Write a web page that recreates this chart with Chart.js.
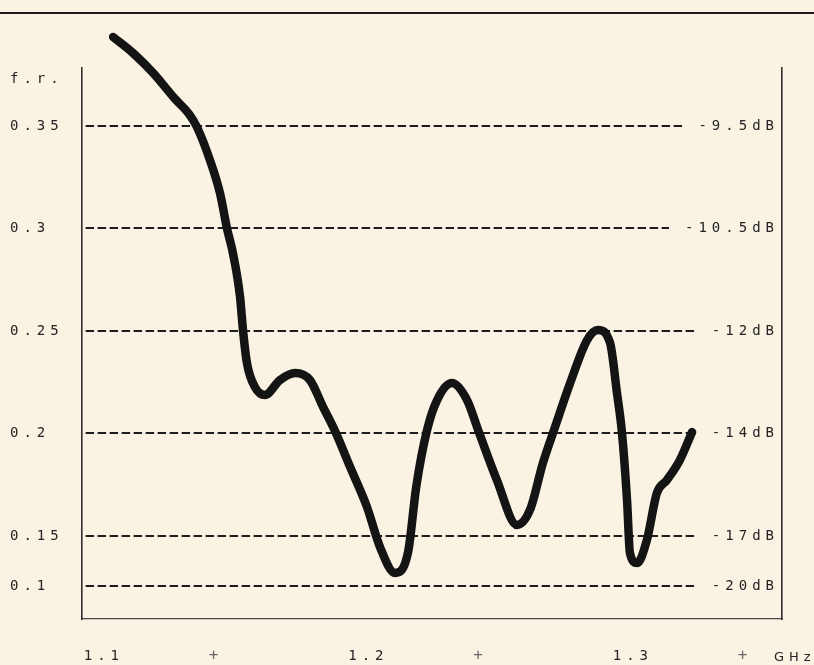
<!DOCTYPE html>
<html>
<head>
<meta charset="utf-8">
<script src="https://cdn.jsdelivr.net/npm/chart.js@4.4.1/dist/chart.umd.min.js"></script>
<style>
    body { margin: 0; background: #faf3e4; }
    #wrap { position: relative; width: 814px; height: 665px; overflow: hidden; }
    #topRule { position: absolute; left: 0; top: 12px; width: 814px; height: 2px; background: #1a1a1a; }
    canvas { position: absolute; left: 0; top: 0; }
</style>
</head>
<body>
<div id="wrap">
    <div id="topRule"></div>
    <canvas id="frChart" width="814" height="665"></canvas>
</div>
<script>
// frequency (GHz) and reflection factor
const freqGHz = [
    1.1111, 1.1186, 1.1262, 1.1345, 1.1398, 1.1428, 1.1477, 1.1515, 1.1542, 1.1564,
    1.1591, 1.1602, 1.1617, 1.1647, 1.1685, 1.1742, 1.1799, 1.1855, 1.1905, 1.1950,
    1.2007, 1.2071, 1.2120, 1.2177, 1.2226, 1.2257, 1.2298, 1.2336, 1.2392, 1.2449,
    1.2491, 1.2562, 1.2638, 1.2687, 1.2736, 1.2782, 1.2839, 1.2903, 1.2944, 1.2990,
    1.3016, 1.3035, 1.3054, 1.3065, 1.3092, 1.3129, 1.3167, 1.3205, 1.3254, 1.3300
];
const reflection = [
    0.3934, 0.3856, 0.3759, 0.3632, 0.3559, 0.3495, 0.3334, 0.3173, 0.2998, 0.2880,
    0.2666, 0.2505, 0.2344, 0.2227, 0.2188, 0.2261, 0.2295, 0.2261, 0.2129, 0.2012,
    0.1837, 0.1641, 0.1446, 0.1320, 0.1420, 0.1740, 0.2017, 0.2163, 0.2246, 0.2163,
    0.2017, 0.1773, 0.1554, 0.1627, 0.1856, 0.2032, 0.2246, 0.2456, 0.2505, 0.2441,
    0.2198, 0.2002, 0.1676, 0.1417, 0.1368, 0.1480, 0.1710, 0.1773, 0.1871, 0.2007
];

// axis ticks (the 0.1 line sits closer to 0.15 on the original plot)
const yTickValues = [0.3729, 0.35, 0.3, 0.25, 0.2, 0.15, 0.1256];
const yTickLabels = ['f.r.', '0.35', '0.3', '0.25', '0.2', '0.15', '0.1'];
const dbLabels = ['', '-9.5dB', '-10.5dB', '-12dB', '-14dB', '-17dB', '-20dB'];
const xTickValues = [1.1, 1.2, 1.3];
const xTickLabels = ['1.1', '1.2', '1.3'];
const xMarkValues = [1.15, 1.25, 1.35, 1.3688];
const xMarkLabels = ['+', '+', '+', 'GHz'];

const Y_MIN = 0.10951, Y_MAX = 0.37829;
const X_MIN = 1.09934, X_MAX = 1.36399;
const BG = '#faf3e4';
const INK = '#242424';
const MONO = { family: 'DejaVu Sans Mono', size: 14 };

function noPad(scale) {
    scale.paddingLeft = 0;
    scale.paddingRight = 0;
    scale.paddingTop = 0;
    scale.paddingBottom = 0;
}

const letterSpacing = {
    id: 'letterSpacing',
    beforeLayout(chart) { chart.ctx.letterSpacing = '5px'; },
    beforeDraw(chart) { chart.ctx.letterSpacing = '5px'; }
};

const ctx = document.getElementById('frChart').getContext('2d');
const chart = new Chart(ctx, {
    type: 'line',
    data: {
        datasets: [{
            data: freqGHz.map((f, i) => ({ x: f, y: reflection[i] })),
            borderColor: '#141414',
            borderWidth: 8.5,
            borderCapStyle: 'round',
            borderJoinStyle: 'round',
            pointRadius: 0,
            cubicInterpolationMode: 'monotone',
            clip: false
        }]
    },
    options: {
        responsive: false,
        animation: false,
        devicePixelRatio: 1,
        // both bottom axes get zero height; mirrored labels are not clipped to the box
        layout: { padding: { top: 68, left: 10, right: 0, bottom: 46 } },
        plugins: { legend: { display: false }, tooltip: { enabled: false } },
        scales: {
            x: {
                type: 'linear',
                position: 'bottom',
                min: X_MIN,
                max: X_MAX,
                afterBuildTicks: s => { s.ticks = xTickValues.map(v => ({ value: v })); },
                afterFit: s => { s.height = 0; noPad(s); },
                grid: { display: false, drawTicks: false },
                border: { display: true, color: '#4a4a4a', width: 1.2 },
                ticks: {
                    autoSkip: false,
                    maxRotation: 0,
                    mirror: true,
                    align: 'start',
                    padding: -46,
                    color: INK,
                    font: MONO,
                    callback: (v, i) => xTickLabels[i]
                }
            },
            x2: {
                type: 'linear',
                position: 'bottom',
                min: X_MIN,
                max: X_MAX,
                afterBuildTicks: s => { s.ticks = xMarkValues.map(v => ({ value: v })); },
                afterFit: s => { s.height = 0; noPad(s); },
                grid: { display: false, drawTicks: false },
                border: { display: false },
                ticks: {
                    autoSkip: false,
                    maxRotation: 0,
                    mirror: true,
                    padding: -46,
                    color: c => c.index === 3 ? INK : '#6a6a6a',
                    font: c => c.index === 3 ? { family: 'DejaVu Sans', size: 13 } : { family: 'DejaVu Sans Mono', size: 16 },
                    callback: (v, i) => xMarkLabels[i]
                }
            },
            y: {
                type: 'linear',
                position: 'left',
                min: Y_MIN,
                max: Y_MAX,
                afterBuildTicks: s => { s.ticks = yTickValues.map(v => ({ value: v })); },
                afterFit: s => { s.width = 72; noPad(s); },
                grid: {
                    drawTicks: false,
                    lineWidth: 2,
                    color: c => c.index === 0 ? 'rgba(0,0,0,0)' : '#1e1e1e'
                },
                border: { display: true, color: '#2e2e2e', width: 1.6, dash: [8.5, 3.5], dashOffset: 9 },
                ticks: {
                    autoSkip: false,
                    crossAlign: 'far',
                    color: INK,
                    font: MONO,
                    callback: (v, i) => yTickLabels[i]
                }
            },
            y2: {
                type: 'linear',
                position: 'right',
                min: Y_MIN,
                max: Y_MAX,
                afterBuildTicks: s => { s.ticks = yTickValues.map(v => ({ value: v })); },
                afterFit: s => { s.width = 32; noPad(s); },
                grid: { display: false, drawTicks: false },
                border: { display: true, color: '#2e2e2e', width: 1.6 },
                ticks: {
                    autoSkip: false,
                    mirror: true,
                    padding: -3,
                    color: INK,
                    font: MONO,
                    showLabelBackdrop: c => c.index !== 0,
                    backdropColor: BG,
                    backdropPadding: { left: 16, right: 0, top: 3, bottom: 3 },
                    callback: (v, i) => dbLabels[i]
                }
            }
        }
    },
    plugins: [letterSpacing]
});
</script>
</body>
</html>
